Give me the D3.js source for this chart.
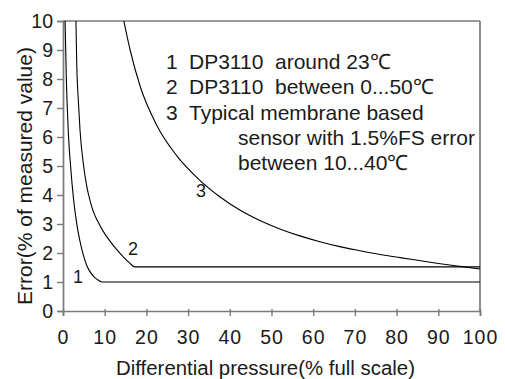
<!DOCTYPE html>
<html>
<head>
<meta charset="utf-8">
<script src="https://cdn.jsdelivr.net/npm/d3@7/dist/d3.min.js"></script>
<style>
  html, body { margin: 0; padding: 0; background: #fff; }
  svg { display: block; }
  text { font-family: "Liberation Sans", Arial, sans-serif; fill: #1a1a1a; }
</style>
</head>
<body>
<script>
// ---- data ----
const xTicks = [0, 10, 20, 30, 40, 50, 60, 70, 80, 90, 100];
const yTicks = [0, 1, 2, 3, 4, 5, 6, 7, 8, 9, 10];

const curve1X = [0.5, 0.8, 1.3, 1.9, 2.5, 3.2, 4.0, 4.8, 5.7, 6.5, 7.5, 8.5, 9.3, 100];
const curve1Y = [10, 8.0, 6.1, 4.85, 3.9, 3.1, 2.45, 1.97, 1.57, 1.35, 1.17, 1.06, 1.0, 1.0];

const curve2X = [3.1, 3.3, 3.7, 4.1, 4.9, 5.7, 6.5, 7.3, 8.3, 9.5, 11.3, 13.0, 14.5, 16.0, 17.2, 100];
const curve2Y = [10, 8.5, 7.2, 6.2, 5.05, 4.3, 3.8, 3.42, 3.1, 2.78, 2.4, 2.1, 1.86, 1.65, 1.52, 1.52];

const curve3X = [14.6, 16.1, 18.5, 22.5, 27.3, 32.5, 37.6, 42.4, 47.2, 52.0, 56.8, 61.6, 66.4, 71.2, 76.0, 80.8, 85.4, 90, 95.7, 100];
const curve3Y = [10, 9.0, 7.75, 6.4, 5.35, 4.55, 3.94, 3.48, 3.12, 2.83, 2.59, 2.39, 2.22, 2.08, 1.95, 1.84, 1.74, 1.64, 1.53, 1.45];

const curveLabels = ["1", "2", "3"];
const curveLabelPos = [[2.4, 0.97], [15.6, 1.93], [31.9, 3.93]];

const legendNums = ["1", "2", "3", "", ""];
const legendLines = ["DP3110  around 23\u2103", "DP3110  between 0...50\u2103", "Typical membrane based",
                     "sensor with 1.5%FS error", "between 10...40\u2103"];

const xTitle = "Differential pressure(% full scale)";
const yTitle = "Error(% of measured value)";

// ---- drawing ----
const W = 505, H = 379;
const svg = d3.select("body").append("svg").attr("width", W).attr("height", H);

const x = d3.scaleLinear().domain([0, 100]).range([63, 480]);
const y = d3.scaleLinear().domain([0, 10]).range([311, 21]);

const frameColor = "#7a7a7a";

// frame top & right
svg.append("line").attr("x1", x(0)).attr("x2", x(100)).attr("y1", y(10)).attr("y2", y(10))
  .attr("stroke", frameColor).attr("stroke-width", 1.7);
svg.append("line").attr("x1", x(100)).attr("x2", x(100)).attr("y1", y(10)).attr("y2", y(0))
  .attr("stroke", frameColor).attr("stroke-width", 1.7);

// x axis
const gx = svg.append("g").attr("transform", `translate(0,${y(0)})`)
  .call(d3.axisBottom(x).tickValues(xTicks).tickSize(5).tickPadding(14).tickFormat(d3.format("d")));
gx.select(".domain").attr("stroke", frameColor).attr("stroke-width", 1.7);
gx.selectAll(".tick line").attr("stroke", frameColor).attr("stroke-width", 1.4).attr("y1", -2);
gx.selectAll(".tick text").style("font-size", "19.5px").style("font-family", "Liberation Sans, Arial, sans-serif")
  .attr("fill", "#1a1a1a").attr("letter-spacing", "1px");

// y axis
const gy = svg.append("g").attr("transform", `translate(${x(0)},0)`)
  .call(d3.axisLeft(y).tickValues(yTicks).tickSize(6).tickPadding(4).tickFormat(d3.format("d")));
gy.select(".domain").attr("stroke", frameColor).attr("stroke-width", 1.7);
gy.selectAll(".tick line").attr("stroke", frameColor).attr("stroke-width", 1.4);
gy.selectAll(".tick text").style("font-size", "19.5px").style("font-family", "Liberation Sans, Arial, sans-serif")
  .attr("fill", "#1a1a1a");

// curves
const line = d3.line().x(d => x(d[0])).y(d => y(d[1])).curve(d3.curveMonotoneX);
[[curve1X, curve1Y], [curve2X, curve2Y], [curve3X, curve3Y]].forEach(([xs, ys]) => {
  svg.append("path").datum(xs.map((v, i) => [v, ys[i]]))
    .attr("d", line).attr("fill", "none").attr("stroke", "#000").attr("stroke-width", 1.1);
});

// curve labels
curveLabels.forEach((t, i) => {
  svg.append("text").attr("x", x(curveLabelPos[i][0])).attr("y", y(curveLabelPos[i][1]))
    .attr("font-size", 18).text(t);
});

// legend block
legendLines.forEach((t, i) => {
  const by = 69 + i * 25.3;
  if (legendNums[i]) svg.append("text").attr("x", 166).attr("y", by).attr("font-size", 21).text(legendNums[i]);
  svg.append("text").attr("x", i < 3 ? 189 : 238).attr("y", by).attr("font-size", 21)
    .attr("xml:space", "preserve").style("white-space", "pre").text(t);
});

// axis titles
svg.append("text").attr("x", 116).attr("y", 375)
  .attr("font-size", 19.5).attr("textLength", 299).attr("lengthAdjust", "spacingAndGlyphs").text(xTitle);
svg.append("text").attr("transform", "translate(32,176) rotate(-90)").attr("text-anchor", "middle")
  .attr("font-size", 21).text(yTitle);
</script>
</body>
</html>
